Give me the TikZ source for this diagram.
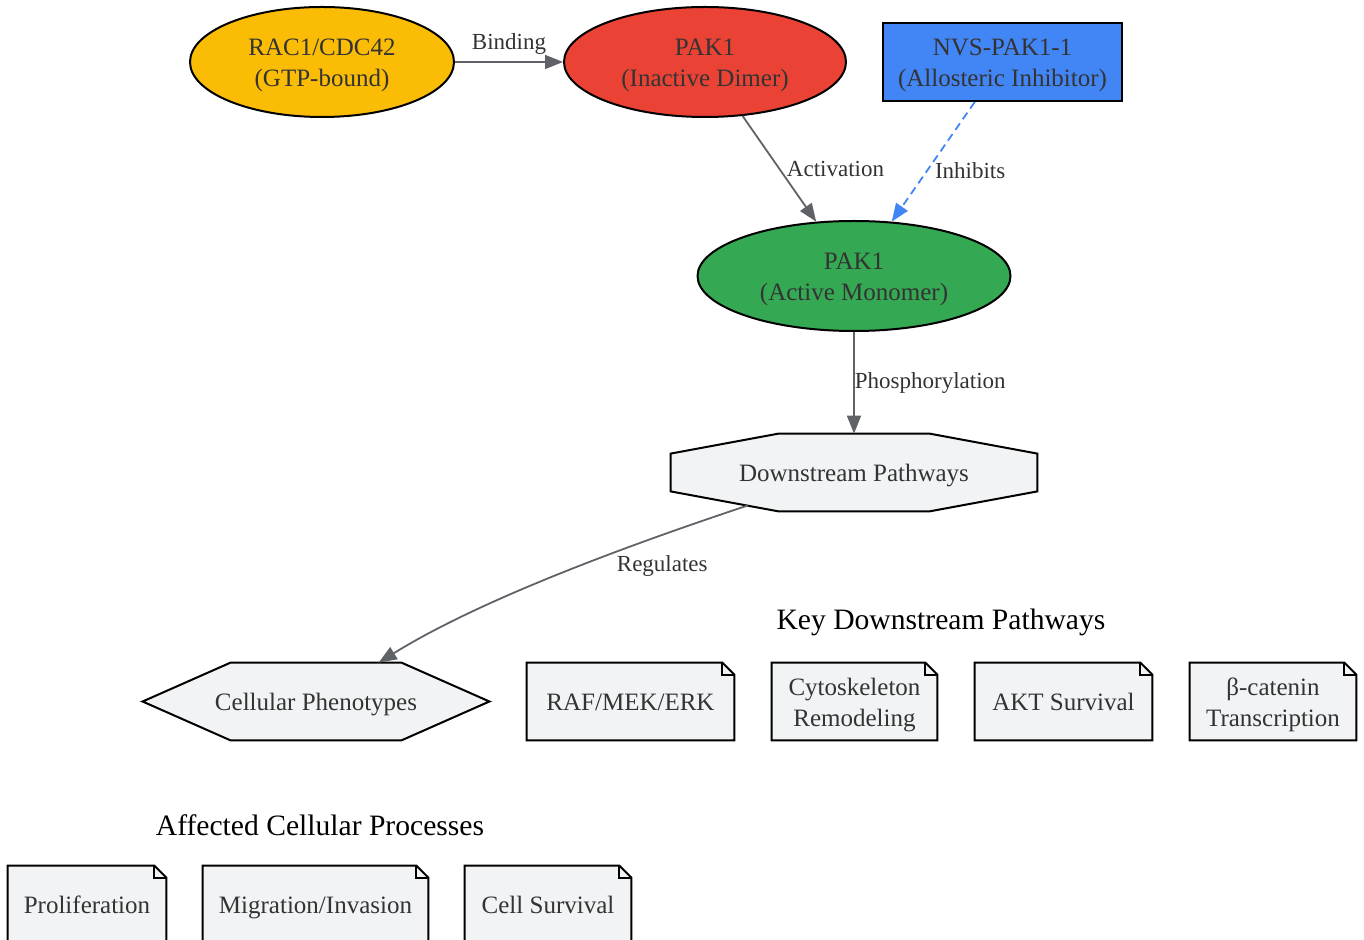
\documentclass[tikz,border=0pt]{standalone}
\usepackage{fontspec}
\setmainfont{Liberation Serif}
\usetikzlibrary{shapes.geometric,arrows.meta,backgrounds}

\definecolor{gyellow}{HTML}{FBBC05}
\definecolor{gred}{HTML}{EA4335}
\definecolor{gblue}{HTML}{4285F4}
\definecolor{ggreen}{HTML}{34A853}
\definecolor{pale}{HTML}{F1F3F4}
\definecolor{edgegray}{HTML}{5F6368}
\definecolor{inkgray}{HTML}{333333}

\newcommand{\nodefont}{\fontsize{12.5pt}{15.5pt}\selectfont}
\newcommand{\labfont}{\fontsize{11.5pt}{13pt}\selectfont}
\newcommand{\headfont}{\fontsize{14.8pt}{17pt}\selectfont}

% outline with folded corner, drawn behind a note node
\newcommand{\dogear}[1]{%
  \filldraw[shapeline] (#1.south west) -- (#1.north west) -- ([xshift=-6pt]#1.north east)
    -- ([yshift=-6pt]#1.north east) -- (#1.south east) -- cycle;
  \draw[shapeline, fill=none] ([xshift=-6pt]#1.north east) |- ([yshift=-6pt]#1.north east);
}

\begin{document}
\begin{tikzpicture}[x=0.5pt, y=-0.5pt,
    every node/.style={text=inkgray},
    boxtext/.style={font=\nodefont, align=center, inner sep=0pt,
      execute at begin node={\rule[-2.8pt]{0pt}{15pt}}},
    twoline/.style={execute at begin node={\rule{0pt}{27.5pt}}},
    protein/.style={ellipse, draw=black, line width=1pt, boxtext, twoline, minimum height=55pt},
    drugbox/.style={rectangle, draw=black, line width=1pt, fill=gblue, boxtext, twoline,
      minimum width=119.5pt, minimum height=39pt},
    notenode/.style={rectangle, boxtext, minimum height=38.5pt},
    shapeline/.style={draw=black, line width=1pt, fill=pale},
    flow/.style={draw=edgegray, line width=0.9pt, -{Triangle[length=9pt,width=7pt]}},
    flowlabel/.style={font=\labfont, text=inkgray},
    heading/.style={font=\headfont, text=black}]

  \useasboundingbox (0,0) rectangle (1364,940);

  % Upstream activation
  \node[protein, fill=gyellow, minimum width=132pt] (rac) at (322,62) {RAC1/CDC42\\(GTP-bound)};
  \node[protein, fill=gred, minimum width=141pt] (pakdimer) at (705,62) {PAK1\\(Inactive Dimer)};
  \node[drugbox] (nvs) at (1002.5,62) {NVS-PAK1-1\\(Allosteric Inhibitor)};
  \node[protein, fill=ggreen, minimum width=156.5pt] (pakmono) at (854,276) {PAK1\\(Active Monomer)};

  % Signalling hubs
  \node[notenode, minimum width=183pt] (downstream) at (854,472.5) {Downstream Pathways};
  \node[notenode, minimum width=173pt] (phenotypes) at (316,701.5) {Cellular Phenotypes};

  % Key downstream pathways
  \node[heading] (keyhead) at (941,622) {Key Downstream Pathways};
  \node[notenode, minimum width=103.5pt] (rafmek) at (630.5,701.5) {RAF/MEK/ERK};
  \node[notenode, twoline, minimum width=82.5pt] (cyto) at (854.5,701.5) {Cytoskeleton\\Remodeling};
  \node[notenode, minimum width=88.5pt] (akt) at (1063.5,701.5) {AKT Survival};
  \node[notenode, twoline, minimum width=83pt] (bcat) at (1273,701.5) {β-catenin\\Transcription};

  % Affected cellular processes
  \node[heading] (prochead) at (320,825) {Affected Cellular Processes};
  \node[notenode, minimum width=79pt] (prolif) at (87,904.5) {Proliferation};
  \node[notenode, minimum width=112.5pt] (migr) at (315.5,904.5) {Migration/Invasion};
  \node[notenode, minimum width=83pt] (cellsurv) at (548,904.5) {Cell Survival};

  % Outlines behind the pale nodes
  \begin{scope}[on background layer]
    \filldraw[shapeline] ([yshift=-10pt]downstream.north west) -- ([xshift=54pt]downstream.north west)
      -- ([xshift=-54pt]downstream.north east) -- ([yshift=-10pt]downstream.north east)
      -- ([yshift=10pt]downstream.south east) -- ([xshift=-54pt]downstream.south east)
      -- ([xshift=54pt]downstream.south west) -- ([yshift=10pt]downstream.south west) -- cycle;
    \filldraw[shapeline] (phenotypes.west) -- ([xshift=44pt]phenotypes.north west)
      -- ([xshift=-44pt]phenotypes.north east) -- (phenotypes.east)
      -- ([xshift=-44pt]phenotypes.south east) -- ([xshift=44pt]phenotypes.south west) -- cycle;
    \dogear{rafmek}
    \dogear{cyto}
    \dogear{akt}
    \dogear{bcat}
    \dogear{prolif}
    \dogear{migr}
    \dogear{cellsurv}
  \end{scope}

  % Connectors
  \draw[flow] (rac) -- node[flowlabel, above] {Binding} (pakdimer);
  \draw[flow] (pakdimer) -- node[flowlabel, right] {Activation} (pakmono);
  \draw[flow, draw=gblue, dash pattern=on 4pt off 2.5pt] (nvs) -- node[flowlabel, right, pos=0.57] {Inhibits} (pakmono);
  \draw[flow] (pakmono) -- node[flowlabel, anchor=west, inner sep=0pt] {Phosphorylation} (downstream);
  \draw[flow] ([xshift=-53pt,yshift=3pt]downstream.south) .. controls (620,548) and (478,601) ..
    node[flowlabel, below, pos=0.25, xshift=6pt, yshift=-4.5pt] {Regulates} (phenotypes);
\end{tikzpicture}
\end{document}
